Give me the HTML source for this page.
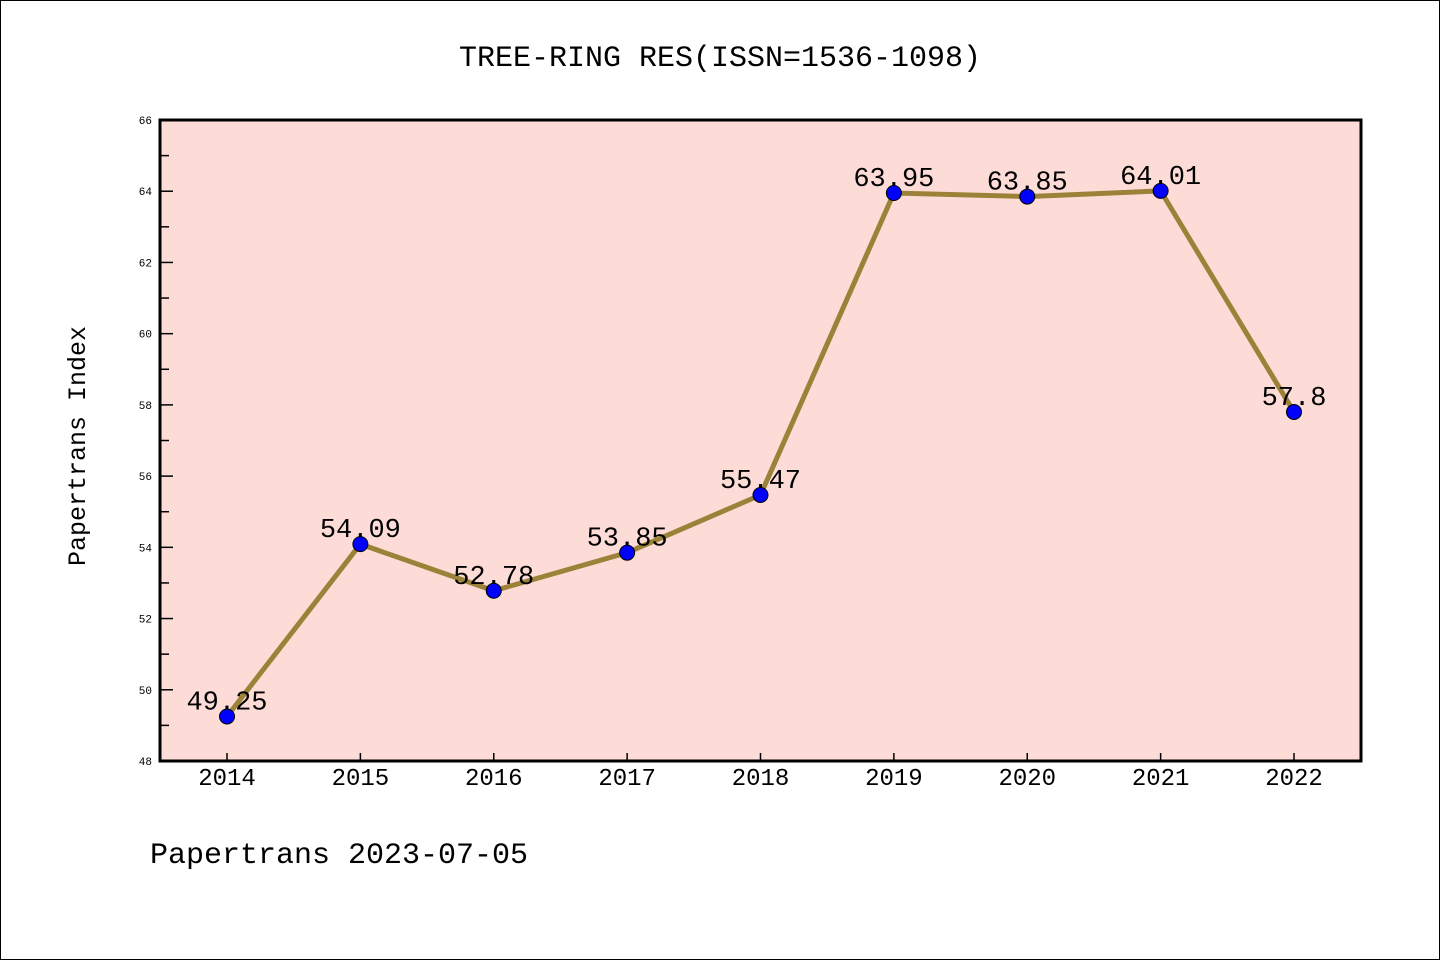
<!DOCTYPE html>
<html><head><meta charset="utf-8"><style>
body{margin:0;background:#fff;}
svg{display:block;}
svg text{font-family:"WenQuanYi Zen Hei Mono","WenQuanYi Zen Hei","Liberation Mono",monospace;}
</style></head><body>
<svg id="chart" width="1440" height="960">
<rect x="0.5" y="0.5" width="1439" height="959" fill="#fff" stroke="#000" stroke-width="1"/>
<text x="720" y="66" font-size="30" text-anchor="middle">TREE-RING RES(ISSN=1536-1098)</text>
<rect x="160" y="120" width="1201" height="641" fill="#fddcd8"/>
<g id="axes"></g>
<g id="series"></g>
<rect x="160" y="120" width="1201" height="641" fill="none" stroke="#000" stroke-width="3"/>
<text transform="translate(85,446) rotate(-90)" font-size="25" text-anchor="middle">Papertrans Index</text>
<text x="150" y="863" font-size="30">Papertrans 2023-07-05</text>
</svg>
<script>
const years=["2014","2015","2016","2017","2018","2019","2020","2021","2022"];
const values=[49.25,54.09,52.78,53.85,55.47,63.95,63.85,64.01,57.8];
const valueLabels=["49.25","54.09","52.78","53.85","55.47","63.95","63.85","64.01","57.8"];
const yTicks=[48,50,52,54,56,58,60,62,64,66];
const NS="http://www.w3.org/2000/svg";
const X=i=>227+i*(1294-227)/(years.length-1);
const Y=v=>761-(v-48)*(641/18);
function mk(t,a,p){const e=document.createElementNS(NS,t);for(const k in a)e.setAttribute(k,a[k]);p.appendChild(e);return e;}
const ax=document.getElementById('axes'),se=document.getElementById('series');
yTicks.forEach(v=>{
  const y=Y(v);
  const t=mk('line',{x1:160,x2:173,y1:y,y2:y,stroke:'#000','stroke-width':1.5},ax);
  
  
  const l=mk('text',{x:152,y:y+4,'font-size':11,'text-anchor':'end'},ax);l.textContent=v;
  
  
  if(v<66){const m=Y(v+1);
    const mt=mk('line',{x1:160,x2:169,y1:m,y2:m,stroke:'#000','stroke-width':1.5},ax);
    
    }
});
years.forEach((yr,i)=>{
  const x=X(i);
  const t=mk('line',{x1:x,x2:x,y1:753,y2:761,stroke:'#000','stroke-width':1.5},ax);
  
  
  const l=mk('text',{x:x,y:785,'font-size':24,'text-anchor':'middle'},ax);l.textContent=yr;
  
  
});
const line=mk('polyline',{points:values.map((v,i)=>X(i)+','+Y(v)).join(' '),fill:'none',stroke:'#9b8238','stroke-width':5},se);


values.forEach((v,i)=>{
  const c=mk('circle',{cx:X(i),cy:Y(v),r:7.5,fill:'#0000ff',stroke:'#000','stroke-width':1},se);
  
  
  const l=mk('text',{x:X(i),y:Y(v)-7,'font-size':27,'text-anchor':'middle'},se);l.textContent=valueLabels[i];
  
  
});
</script>
</body></html>
